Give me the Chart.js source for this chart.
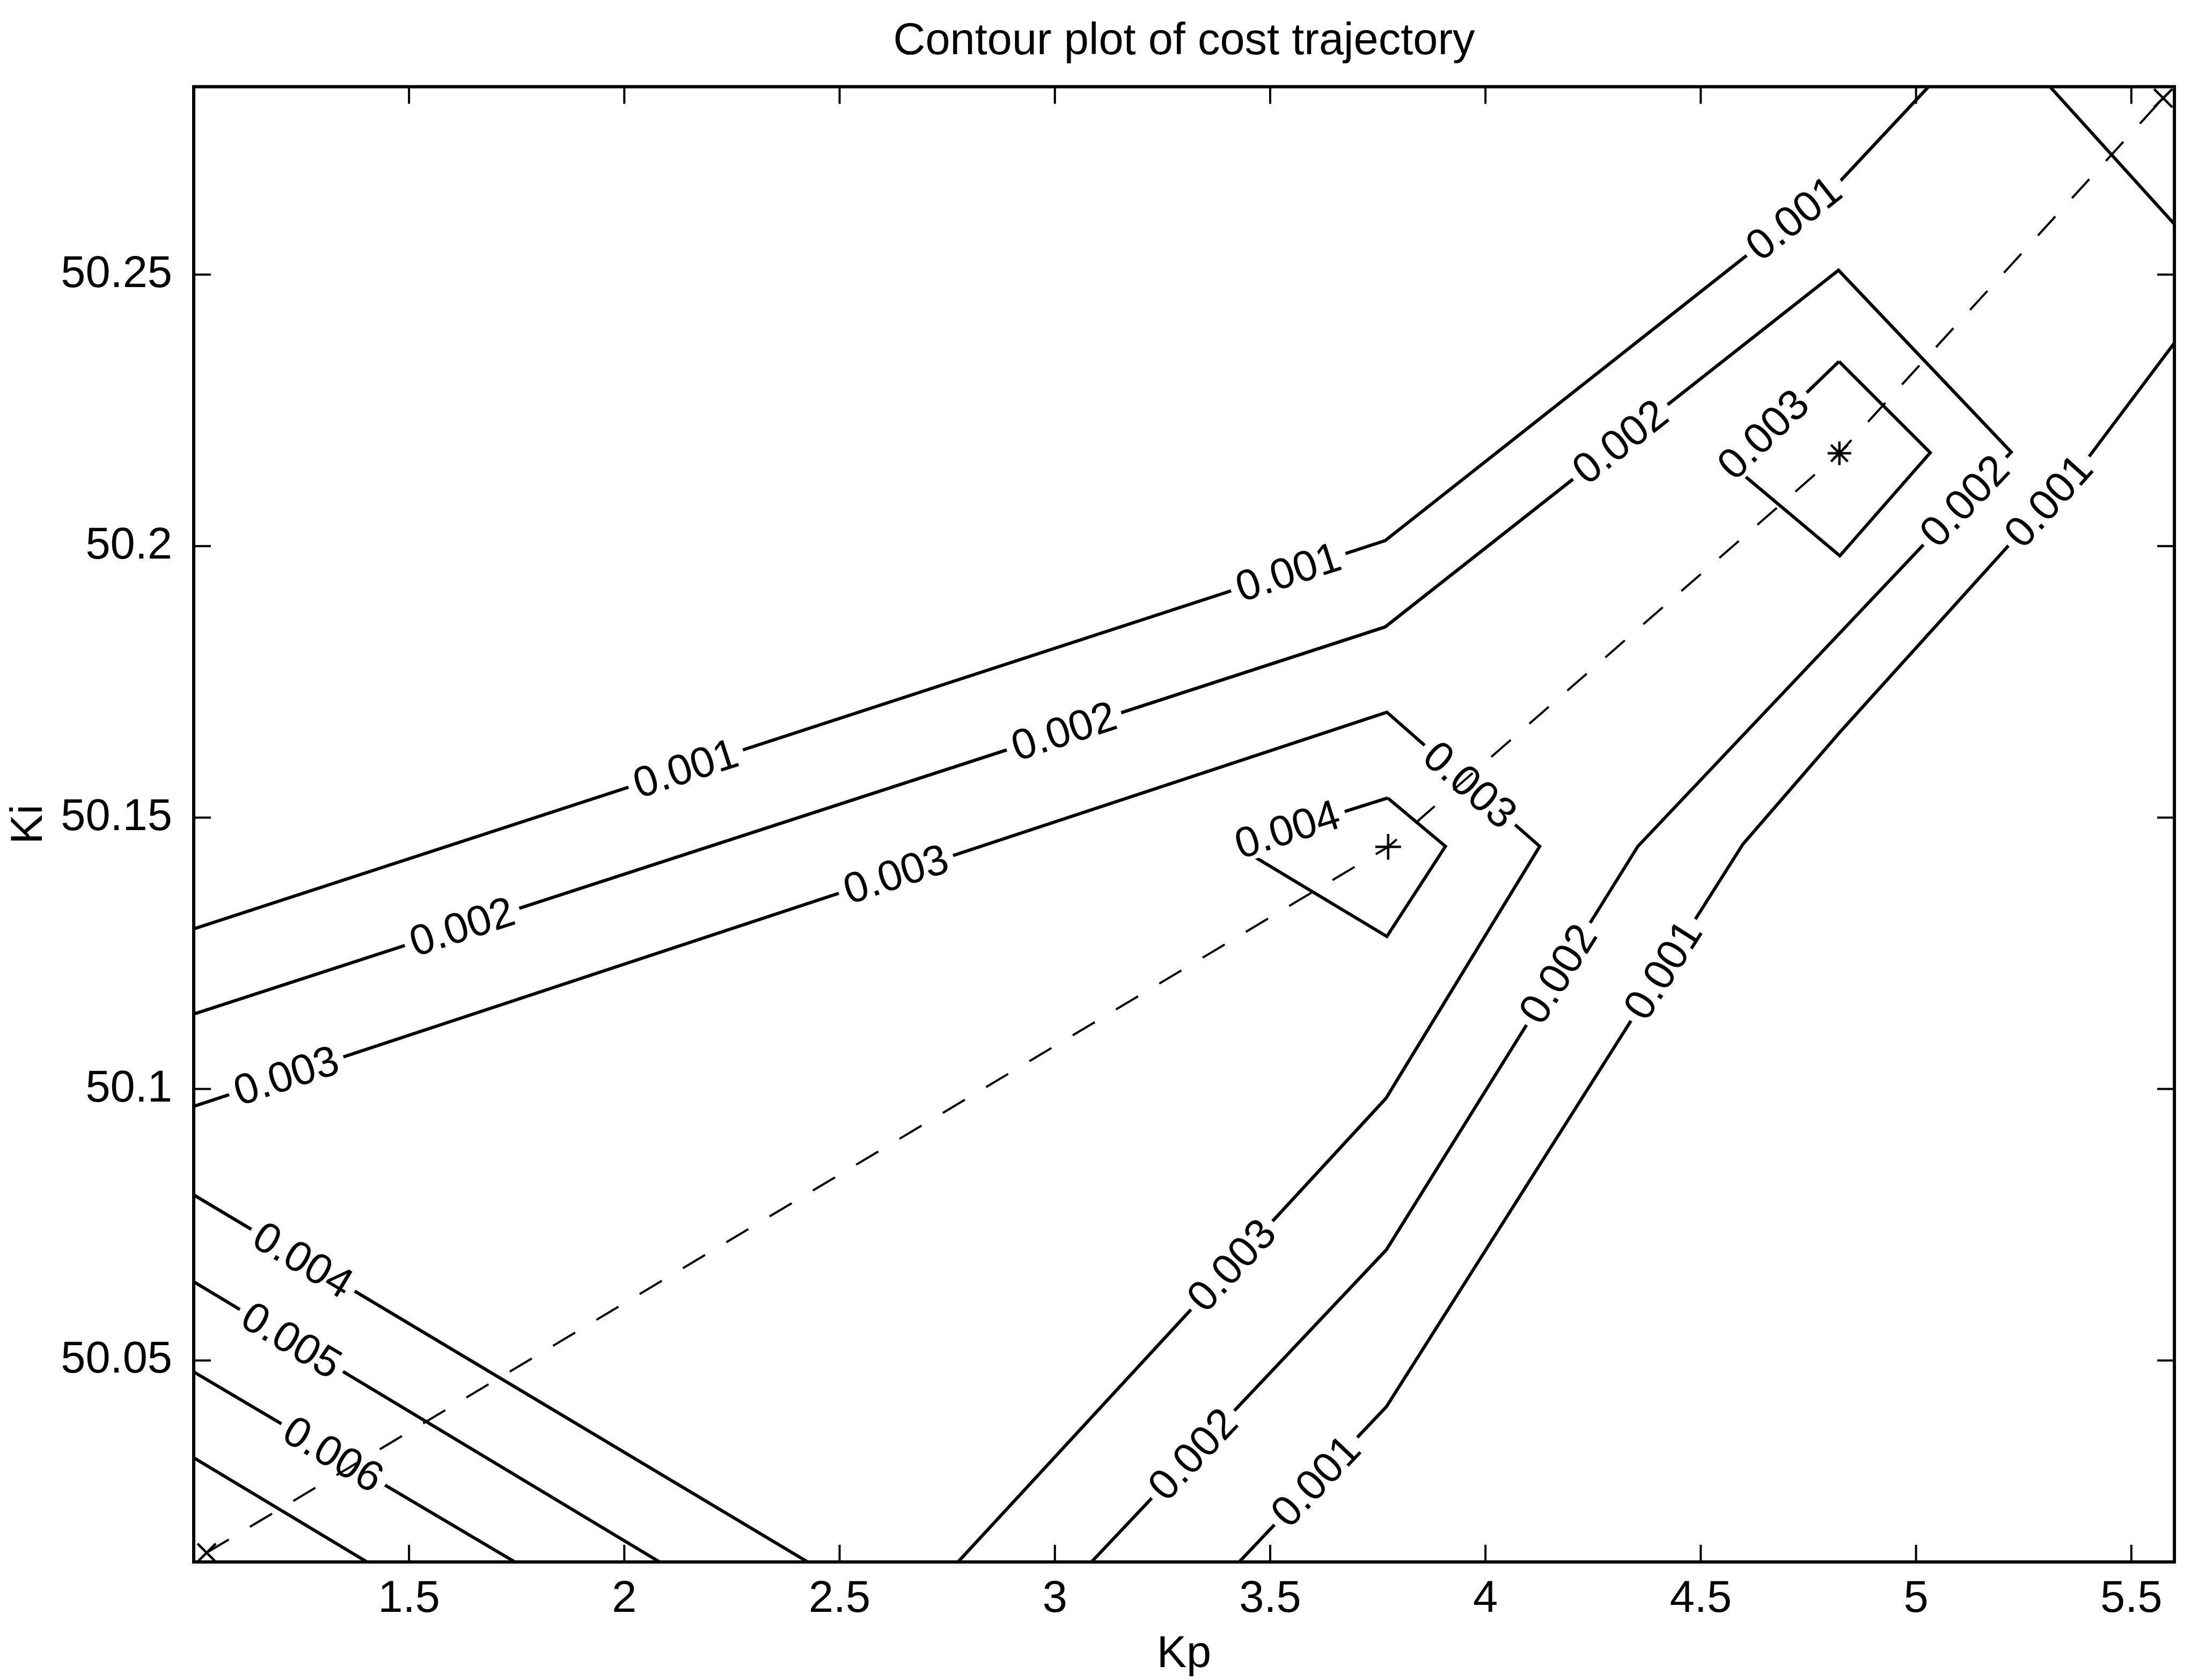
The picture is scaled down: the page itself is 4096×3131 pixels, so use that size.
<!DOCTYPE html>
<html>
<head>
<meta charset="utf-8">
<script src="https://cdn.jsdelivr.net/npm/chart.js@4.4.1/dist/chart.umd.min.js"></script>
<style>
  html, body { margin: 0; padding: 0; background: #ffffff; }
  canvas { display: block; }
</style>
</head>
<body>
<canvas id="chart" width="4096" height="3131"></canvas>
<script>
// ---- axis ticks ----
const kpTicks = [1.5, 2, 2.5, 3, 3.5, 4, 4.5, 5, 5.5];
const kpTickLabels = ['1.5', '2', '2.5', '3', '3.5', '4', '4.5', '5', '5.5'];
const kiTicks = [50.05, 50.1, 50.15, 50.2, 50.25];
const kiTickLabels = ['50.05', '50.1', '50.15', '50.2', '50.25'];
const kpRange = [1.0, 5.6];
const kiRange = [50.0129, 50.2846];

// ---- contour lines of the cost (Kp, Ki vertices) ----
const c001UpperKp = [1.0, 3.767, 4.819, 5.029];
const c001UpperKi = [50.1295, 50.201, 50.2668, 50.2846];
const c001RightKp = [3.428, 3.770, 4.598, 4.824, 5.403, 5.6];
const c001RightKi = [50.0129, 50.0415, 50.1451, 50.1658, 50.2166, 50.2374];
const c002Kp = [3.085, 3.770, 4.354, 5.221, 4.820, 3.767, 1.0];
const c002Ki = [50.0129, 50.0704, 50.1447, 50.2173, 50.2508, 50.1851, 50.1138];
const c003Kp = [1.0, 3.771, 4.126, 3.769, 2.775];
const c003Ki = [50.0968, 50.1694, 50.1447, 50.0983, 50.0129];
const c003IslandKp = [4.821, 5.033, 4.823, 4.572, 4.821];
const c003IslandKi = [50.2340, 50.2172, 50.1982, 50.2149, 50.2340];
const c004IslandKp = [3.773, 3.907, 3.771, 3.421, 3.773];
const c004IslandKi = [50.1536, 50.1447, 50.1281, 50.1448, 50.1536];
const c004Kp = [1.0, 2.426];
const c004Ki = [50.0805, 50.0129];
const c005Kp = [1.0, 2.082];
const c005Ki = [50.0645, 50.0129];
const c006Kp = [1.0, 1.746];
const c006Ki = [50.0479, 50.0129];
const c007Kp = [1.0, 1.4025];
const c007Ki = [50.0321, 50.0129];
const cCornerKp = [5.311, 5.6];
const cCornerKi = [50.2846, 50.2593];

// ---- cost trajectory ----
const trajKp = [1.03, 3.774, 4.822, 5.574];
const trajKi = [50.0146, 50.1446, 50.2171, 50.2825];
const trajMarkers = ['crossRot', 'cross', 'star', 'crossRot'];

// ---- contour labels: text, owning line, position ----
const labelText = ['0.001', '0.001', '0.001',
                   '0.002', '0.002', '0.002', '0.002', '0.002', '0.002',
                   '0.003', '0.003', '0.003', '0.003',
                   '0.004', '0.003',
                   '0.001', '0.001', '0.001',
                   '0.004', '0.005', '0.006'];
const labelLine = ['c001Upper', 'c001Upper', 'c001Upper',
                   'c002', 'c002', 'c002', 'c002', 'c002', 'c002',
                   'c003', 'c003', 'c003', 'c003',
                   'c004Island', 'c003Island',
                   'c001Right', 'c001Right', 'c001Right',
                   'c004', 'c005', 'c006'];
const labelKp = [2.143, 3.542, 4.716,
                 1.623, 3.021, 4.313, 5.113, 4.169, 3.321,
                 1.215, 2.631, 3.964, 3.411,
                 3.541, 4.64,
                 3.606, 4.413, 5.308,
                 1.254, 1.227, 1.324];
const labelKi = [50.1589, 50.1952, 50.2604,
                 50.1299, 50.1659, 50.2192, 50.2083, 50.1212, 50.0327,
                 50.1024, 50.1395, 50.156, 50.0675,
                 50.1475, 50.221,
                 50.0278, 50.1219, 50.2083,
                 50.0685, 50.0537, 50.0327];

const contourLines = {
  c001Upper: [c001UpperKp, c001UpperKi],
  c001Right: [c001RightKp, c001RightKi],
  c002: [c002Kp, c002Ki],
  c003: [c003Kp, c003Ki],
  c003Island: [c003IslandKp, c003IslandKi],
  c004Island: [c004IslandKp, c004IslandKi],
  c004: [c004Kp, c004Ki],
  c005: [c005Kp, c005Ki],
  c006: [c006Kp, c006Ki],
  c007: [c007Kp, c007Ki],
  cCorner: [cCornerKp, cCornerKi]
};

const toPoints = (xs, ys) => xs.map((x, i) => ({ x: x, y: ys[i] }));

const FONT = "'Liberation Sans', Arial, Helvetica, sans-serif";
const INK = '#000000';

const datasets = [{
  label: 'trajectory',
  data: toPoints(trajKp, trajKi),
  showLine: true,
  borderColor: INK,
  borderWidth: 4,
  borderDash: [48, 46],
  pointStyle: trajMarkers,
  pointRadius: [24, 24, 22, 24],
  pointBorderWidth: 4.5,
  pointBorderColor: INK,
  pointBackgroundColor: INK,
  fill: false
}];
Object.keys(contourLines).forEach(name => {
  const [xs, ys] = contourLines[name];
  datasets.push({
    label: name,
    data: toPoints(xs, ys),
    showLine: true,
    borderColor: INK,
    borderWidth: 6,
    pointRadius: 0,
    fill: false,
    tension: 0
  });
});

// frame, inward tick marks and inline contour labels
const contourDecor = {
  id: 'contourDecor',
  beforeDatasetDraw(chart, args) {
    if (args.index !== 0) return;
    const ctx = chart.ctx;
    const xs = chart.scales.x, ys = chart.scales.y;
    ctx.save();
    ctx.font = '80px ' + FONT;
    ctx.textAlign = 'center';
    ctx.textBaseline = 'middle';
    labelText.forEach((txt, i) => {
      const [lx, ly] = contourLines[labelLine[i]];
      const px = xs.getPixelForValue(labelKp[i]);
      const py = ys.getPixelForValue(labelKi[i]);
      // nearest segment of the owning line
      let best = null;
      for (let k = 0; k < lx.length - 1; k++) {
        const ax = xs.getPixelForValue(lx[k]), ay = ys.getPixelForValue(ly[k]);
        const bx = xs.getPixelForValue(lx[k + 1]), by = ys.getPixelForValue(ly[k + 1]);
        const dx = bx - ax, dy = by - ay;
        const len2 = dx * dx + dy * dy;
        let t = ((px - ax) * dx + (py - ay) * dy) / len2;
        t = Math.max(0, Math.min(1, t));
        const qx = ax + t * dx, qy = ay + t * dy;
        const d = (px - qx) ** 2 + (py - qy) ** 2;
        if (!best || d < best.d) best = { d, qx, qy, dx, dy };
      }
      let ang = Math.atan2(best.dy, best.dx);
      if (ang > Math.PI / 2) ang -= Math.PI;
      if (ang < -Math.PI / 2) ang += Math.PI;
      const w = ctx.measureText(txt).width;
      ctx.save();
      ctx.translate(best.qx, best.qy);
      ctx.rotate(ang);
      ctx.fillStyle = '#ffffff';
      ctx.fillRect(-w / 2 - 12, -34, w + 24, 68);
      ctx.fillStyle = INK;
      ctx.fillText(txt, 0, 4);
      ctx.restore();
    });
    ctx.restore();
  },
  afterDraw(chart) {
    const ctx = chart.ctx;
    const a = chart.chartArea;
    const xs = chart.scales.x, ys = chart.scales.y;
    const tl = 32;
    ctx.save();
    ctx.strokeStyle = INK;
    ctx.lineWidth = 4;
    ctx.beginPath();
    kpTicks.forEach(v => {
      const x = xs.getPixelForValue(v);
      ctx.moveTo(x, a.bottom); ctx.lineTo(x, a.bottom - tl);
      ctx.moveTo(x, a.top); ctx.lineTo(x, a.top + tl);
    });
    kiTicks.forEach(v => {
      const y = ys.getPixelForValue(v);
      ctx.moveTo(a.left, y); ctx.lineTo(a.left + tl, y);
      ctx.moveTo(a.right, y); ctx.lineTo(a.right - tl, y);
    });
    ctx.stroke();
    ctx.lineWidth = 6;
    ctx.strokeRect(a.left, a.top, a.right - a.left, a.bottom - a.top);
    ctx.restore();
  }
};

Chart.defaults.font.family = FONT;
Chart.defaults.color = INK;

new Chart(document.getElementById('chart'), {
  type: 'scatter',
  data: { datasets },
  options: {
    responsive: false,
    animation: false,
    devicePixelRatio: 1,
    layout: { padding: { left: 0, right: 44, top: 0, bottom: 0 } },
    plugins: {
      legend: { display: false },
      tooltip: { enabled: false },
      title: {
        display: true,
        fullSize: false,
        text: 'Contour plot of cost trajectory',
        color: INK,
        font: { size: 83, weight: 'normal', lineHeight: 1.2 },
        padding: { top: 28, bottom: 34 }
      }
    },
    scales: {
      x: {
        type: 'linear',
        position: 'bottom',
        min: kpRange[0],
        max: kpRange[1],
        grid: { display: false },
        border: { display: false },
        afterBuildTicks: s => { s.ticks = kpTicks.map(v => ({ value: v })); },
        afterFit: s => { s.height = 220; },
        ticks: {
          autoSkip: false,
          maxRotation: 0,
          padding: 12,
          color: INK,
          font: { size: 83, lineHeight: 1.2 },
          callback: (v, i) => kpTickLabels[i]
        },
        title: {
          display: true,
          text: 'Kp',
          color: INK,
          font: { size: 83, lineHeight: 1.0 },
          padding: { top: 0, bottom: 5 }
        }
      },
      y: {
        type: 'linear',
        position: 'left',
        min: kiRange[0],
        max: kiRange[1],
        grid: { display: false },
        border: { display: false },
        afterBuildTicks: s => { s.ticks = kiTicks.map(v => ({ value: v })); },
        afterFit: s => { s.width = 361; },
        ticks: {
          autoSkip: false,
          padding: 32,
          color: INK,
          font: { size: 83, lineHeight: 1.2 },
          callback: (v, i) => kiTickLabels[i]
        },
        title: {
          display: true,
          text: 'Ki',
          color: INK,
          font: { size: 83, lineHeight: 1.0 },
          padding: { top: 14, bottom: 0 }
        }
      }
    }
  },
  plugins: [contourDecor]
});
</script>
</body>
</html>
